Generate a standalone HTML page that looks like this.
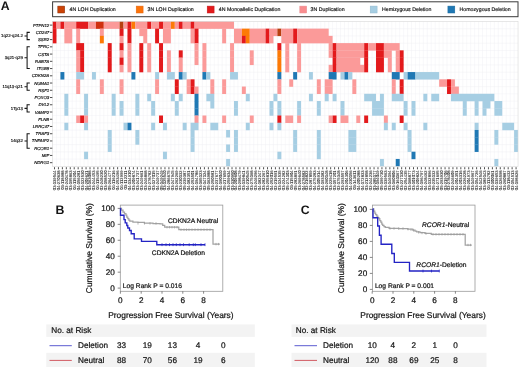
<!DOCTYPE html>
<html lang="en"><head><meta charset="utf-8"><title>Figure</title>
<style>html,body{margin:0;padding:0;background:#fff}body{width:520px;height:367px;overflow:hidden}</style></head>
<body>
<svg width="520" height="367" viewBox="0 0 520 367" style="display:block;font-family:'Liberation Sans',Arial,Helvetica,sans-serif">
<style>text{text-rendering:geometricPrecision;fill:#151515;stroke:#151515;stroke-width:.22px;stroke-linejoin:round}text.s{stroke-width:.07px;fill:#242424}text.m{stroke-width:.17px}text.b{stroke-width:0}</style>
<rect width="520" height="367" fill="#fff"/>
<text x="0.8" y="10" font-size="12.3" font-weight="bold" class="b">A</text>
<rect x="52.6" y="1.8" width="465.4" height="14.9" fill="#fff" stroke="#3a3a3a" stroke-width="1"/>
<rect x="57.8" y="6.1" width="6.9" height="6.9" fill="#cc4206" stroke="#86300a" stroke-width="0.5"/>
<text x="69.6" y="11.35" font-size="5.22" class="m">4N LOH Duplication</text>
<rect x="136.2" y="6.1" width="6.9" height="6.9" fill="#fd730a" stroke="#e0660f" stroke-width="0.5"/>
<text x="147.6" y="11.35" font-size="5.22" class="m">3N LOH Duplication</text>
<rect x="207.2" y="6.1" width="6.9" height="6.9" fill="#e31a1c" stroke="#c41a1c" stroke-width="0.5"/>
<text x="218.8" y="11.35" font-size="5.22" class="m">4N Monoallelic Duplication</text>
<rect x="299.8" y="6.1" width="6.9" height="6.9" fill="#f98d8f" stroke="#e89094" stroke-width="0.5"/>
<text x="310.6" y="11.35" font-size="5.22" class="m">3N Duplication</text>
<rect x="370.2" y="6.1" width="6.9" height="6.9" fill="#a6cee3" stroke="#93b9cd" stroke-width="0.5"/>
<text x="382.0" y="11.35" font-size="5.22" class="m">Hemizygous Deletion</text>
<rect x="447.9" y="6.1" width="6.9" height="6.9" fill="#1f78b4" stroke="#1c6a9e" stroke-width="0.5"/>
<text x="459.6" y="11.35" font-size="5.22" class="m">Homozygous Deletion</text>
<g>
<path d="M56.48 21.50V166.30M60.42 21.50V166.30M64.36 21.50V166.30M68.31 21.50V166.30M72.25 21.50V166.30M76.20 21.50V166.30M80.14 21.50V166.30M84.09 21.50V166.30M88.03 21.50V166.30M91.98 21.50V166.30M95.92 21.50V166.30M99.87 21.50V166.30M103.81 21.50V166.30M107.76 21.50V166.30M111.70 21.50V166.30M115.65 21.50V166.30M119.59 21.50V166.30M123.54 21.50V166.30M127.48 21.50V166.30M131.43 21.50V166.30M135.38 21.50V166.30M139.32 21.50V166.30M143.26 21.50V166.30M147.21 21.50V166.30M151.16 21.50V166.30M155.10 21.50V166.30M159.05 21.50V166.30M162.99 21.50V166.30M166.94 21.50V166.30M170.88 21.50V166.30M174.82 21.50V166.30M178.77 21.50V166.30M182.72 21.50V166.30M186.66 21.50V166.30M190.60 21.50V166.30M194.55 21.50V166.30M198.50 21.50V166.30M202.44 21.50V166.30M206.38 21.50V166.30M210.33 21.50V166.30M214.28 21.50V166.30M218.22 21.50V166.30M222.16 21.50V166.30M226.11 21.50V166.30M230.06 21.50V166.30M234.00 21.50V166.30M237.94 21.50V166.30M241.89 21.50V166.30M245.83 21.50V166.30M249.78 21.50V166.30M253.72 21.50V166.30M257.67 21.50V166.30M261.62 21.50V166.30M265.56 21.50V166.30M269.50 21.50V166.30M273.45 21.50V166.30M277.39 21.50V166.30M281.34 21.50V166.30M285.28 21.50V166.30M289.23 21.50V166.30M293.17 21.50V166.30M297.12 21.50V166.30M301.06 21.50V166.30M305.01 21.50V166.30M308.96 21.50V166.30M312.90 21.50V166.30M316.85 21.50V166.30M320.79 21.50V166.30M324.74 21.50V166.30M328.68 21.50V166.30M332.62 21.50V166.30M336.57 21.50V166.30M340.51 21.50V166.30M344.46 21.50V166.30M348.40 21.50V166.30M352.35 21.50V166.30M356.29 21.50V166.30M360.24 21.50V166.30M364.18 21.50V166.30M368.13 21.50V166.30M372.07 21.50V166.30M376.02 21.50V166.30M379.97 21.50V166.30M383.91 21.50V166.30M387.86 21.50V166.30M391.80 21.50V166.30M395.75 21.50V166.30M399.69 21.50V166.30M403.63 21.50V166.30M407.58 21.50V166.30M411.52 21.50V166.30M415.47 21.50V166.30M419.41 21.50V166.30M423.36 21.50V166.30M427.30 21.50V166.30M431.25 21.50V166.30M435.19 21.50V166.30M439.14 21.50V166.30M443.09 21.50V166.30M447.03 21.50V166.30M450.98 21.50V166.30M454.92 21.50V166.30M458.87 21.50V166.30M462.81 21.50V166.30M466.75 21.50V166.30M470.70 21.50V166.30M474.64 21.50V166.30M478.59 21.50V166.30M482.53 21.50V166.30M486.48 21.50V166.30M490.42 21.50V166.30M494.37 21.50V166.30M498.31 21.50V166.30M502.26 21.50V166.30M506.20 21.50V166.30M510.15 21.50V166.30M514.10 21.50V166.30M52.53 28.74H518.04M52.53 35.98H518.04M52.53 43.22H518.04M52.53 50.46H518.04M52.53 57.70H518.04M52.53 64.94H518.04M52.53 72.18H518.04M52.53 79.42H518.04M52.53 86.66H518.04M52.53 93.90H518.04M52.53 101.14H518.04M52.53 108.38H518.04M52.53 115.62H518.04M52.53 122.86H518.04M52.53 130.10H518.04M52.53 137.34H518.04M52.53 144.58H518.04M52.53 151.82H518.04M52.53 159.06H518.04" stroke="#efeff3" stroke-width="0.45" fill="none"/>
<rect x="52.53" y="21.38" width="3.94" height="7.48" fill="#e31a1c"/>
<rect x="56.48" y="21.38" width="3.94" height="7.48" fill="#fb9a99"/>
<rect x="60.42" y="21.38" width="3.94" height="7.48" fill="#e31a1c"/>
<rect x="64.36" y="21.38" width="11.83" height="7.48" fill="#fb9a99"/>
<rect x="76.20" y="21.38" width="11.83" height="7.48" fill="#e31a1c"/>
<rect x="88.03" y="21.38" width="7.89" height="7.48" fill="#fb9a99"/>
<rect x="95.92" y="21.38" width="7.89" height="7.48" fill="#d0300f"/>
<rect x="103.81" y="21.38" width="15.78" height="7.48" fill="#fb9a99"/>
<rect x="119.59" y="21.38" width="3.94" height="7.48" fill="#b8400f"/>
<rect x="123.54" y="21.38" width="3.94" height="7.48" fill="#fb9a99"/>
<rect x="127.48" y="21.38" width="3.94" height="7.48" fill="#e31a1c"/>
<rect x="131.43" y="21.38" width="3.94" height="7.48" fill="#fd7a06"/>
<rect x="135.38" y="21.38" width="11.83" height="7.48" fill="#fb9a99"/>
<rect x="147.21" y="21.38" width="3.94" height="7.48" fill="#e31a1c"/>
<rect x="151.16" y="21.38" width="7.89" height="7.48" fill="#fb9a99"/>
<rect x="159.05" y="21.38" width="3.94" height="7.48" fill="#e31a1c"/>
<rect x="162.99" y="21.38" width="7.89" height="7.48" fill="#fb9a99"/>
<rect x="170.88" y="21.38" width="3.94" height="7.48" fill="#fd7a06"/>
<rect x="174.82" y="21.38" width="3.94" height="7.48" fill="#fb9a99"/>
<rect x="178.77" y="21.38" width="3.94" height="7.48" fill="#e31a1c"/>
<rect x="182.72" y="21.38" width="7.89" height="7.48" fill="#fb9a99"/>
<rect x="190.60" y="21.38" width="3.94" height="7.48" fill="#e31a1c"/>
<rect x="194.55" y="21.38" width="39.45" height="7.48" fill="#fb9a99"/>
<rect x="52.53" y="28.62" width="3.94" height="7.48" fill="#e31a1c"/>
<rect x="64.36" y="28.62" width="7.89" height="7.48" fill="#fb9a99"/>
<rect x="76.20" y="28.62" width="3.94" height="7.48" fill="#fb9a99"/>
<rect x="99.87" y="28.62" width="3.94" height="7.48" fill="#fb9a99"/>
<rect x="119.59" y="28.62" width="3.94" height="7.48" fill="#e31a1c"/>
<rect x="127.48" y="28.62" width="3.94" height="7.48" fill="#e31a1c"/>
<rect x="139.32" y="28.62" width="7.89" height="7.48" fill="#fb9a99"/>
<rect x="155.10" y="28.62" width="3.94" height="7.48" fill="#e31a1c"/>
<rect x="162.99" y="28.62" width="7.89" height="7.48" fill="#fb9a99"/>
<rect x="190.60" y="28.62" width="3.94" height="7.48" fill="#fb9a99"/>
<rect x="194.55" y="28.62" width="3.94" height="7.48" fill="#e31a1c"/>
<rect x="222.16" y="28.62" width="3.94" height="7.48" fill="#fb9a99"/>
<rect x="234.00" y="28.62" width="7.89" height="7.48" fill="#fb9a99"/>
<rect x="241.89" y="28.62" width="7.89" height="7.48" fill="#fd7a06"/>
<rect x="249.78" y="28.62" width="15.78" height="7.48" fill="#fb9a99"/>
<rect x="265.56" y="28.62" width="3.94" height="7.48" fill="#e31a1c"/>
<rect x="269.50" y="28.62" width="7.89" height="7.48" fill="#fb9a99"/>
<rect x="277.39" y="28.62" width="3.94" height="7.48" fill="#b8400f"/>
<rect x="281.34" y="28.62" width="11.83" height="7.48" fill="#fb9a99"/>
<rect x="293.17" y="28.62" width="3.94" height="7.48" fill="#e31a1c"/>
<rect x="297.12" y="28.62" width="31.56" height="7.48" fill="#fb9a99"/>
<rect x="52.53" y="35.86" width="3.94" height="7.48" fill="#e31a1c"/>
<rect x="64.36" y="35.86" width="7.89" height="7.48" fill="#fb9a99"/>
<rect x="76.20" y="35.86" width="3.94" height="7.48" fill="#fb9a99"/>
<rect x="99.87" y="35.86" width="3.94" height="7.48" fill="#fd7a06"/>
<rect x="119.59" y="35.86" width="3.94" height="7.48" fill="#fb9a99"/>
<rect x="127.48" y="35.86" width="3.94" height="7.48" fill="#e31a1c"/>
<rect x="143.26" y="35.86" width="3.94" height="7.48" fill="#fb9a99"/>
<rect x="155.10" y="35.86" width="3.94" height="7.48" fill="#e31a1c"/>
<rect x="162.99" y="35.86" width="7.89" height="7.48" fill="#fb9a99"/>
<rect x="190.60" y="35.86" width="3.94" height="7.48" fill="#fb9a99"/>
<rect x="194.55" y="35.86" width="3.94" height="7.48" fill="#e31a1c"/>
<rect x="222.16" y="35.86" width="3.94" height="7.48" fill="#fb9a99"/>
<rect x="234.00" y="35.86" width="7.89" height="7.48" fill="#fb9a99"/>
<rect x="241.89" y="35.86" width="3.94" height="7.48" fill="#e31a1c"/>
<rect x="245.83" y="35.86" width="3.94" height="7.48" fill="#fd7a06"/>
<rect x="249.78" y="35.86" width="15.78" height="7.48" fill="#fb9a99"/>
<rect x="265.56" y="35.86" width="3.94" height="7.48" fill="#e31a1c"/>
<rect x="269.50" y="35.86" width="3.94" height="7.48" fill="#fb9a99"/>
<rect x="281.34" y="35.86" width="11.83" height="7.48" fill="#fb9a99"/>
<rect x="293.17" y="35.86" width="3.94" height="7.48" fill="#e31a1c"/>
<rect x="297.12" y="35.86" width="35.50" height="7.48" fill="#fb9a99"/>
<rect x="76.20" y="43.10" width="7.89" height="7.48" fill="#e31a1c"/>
<rect x="107.76" y="43.10" width="3.94" height="7.48" fill="#e31a1c"/>
<rect x="119.59" y="43.10" width="3.94" height="7.48" fill="#e31a1c"/>
<rect x="127.48" y="43.10" width="3.94" height="7.48" fill="#fb9a99"/>
<rect x="139.32" y="43.10" width="3.94" height="7.48" fill="#e31a1c"/>
<rect x="147.21" y="43.10" width="3.94" height="7.48" fill="#fb9a99"/>
<rect x="159.05" y="43.10" width="3.94" height="7.48" fill="#e31a1c"/>
<rect x="194.55" y="43.10" width="3.94" height="7.48" fill="#fb9a99"/>
<rect x="202.44" y="43.10" width="3.94" height="7.48" fill="#fb9a99"/>
<rect x="230.06" y="43.10" width="3.94" height="7.48" fill="#fb9a99"/>
<rect x="277.39" y="43.10" width="3.94" height="7.48" fill="#e31a1c"/>
<rect x="285.28" y="43.10" width="3.94" height="7.48" fill="#fb9a99"/>
<rect x="297.12" y="43.10" width="3.94" height="7.48" fill="#fb9a99"/>
<rect x="328.68" y="43.10" width="3.94" height="7.48" fill="#fb9a99"/>
<rect x="332.62" y="43.10" width="3.94" height="7.48" fill="#e31a1c"/>
<rect x="336.57" y="43.10" width="27.61" height="7.48" fill="#fb9a99"/>
<rect x="364.18" y="43.10" width="3.94" height="7.48" fill="#e31a1c"/>
<rect x="368.13" y="43.10" width="7.89" height="7.48" fill="#fb9a99"/>
<rect x="376.02" y="43.10" width="7.89" height="7.48" fill="#e31a1c"/>
<rect x="383.91" y="43.10" width="15.78" height="7.48" fill="#fb9a99"/>
<rect x="76.20" y="50.34" width="3.94" height="7.48" fill="#fb9a99"/>
<rect x="80.14" y="50.34" width="3.94" height="7.48" fill="#e31a1c"/>
<rect x="107.76" y="50.34" width="3.94" height="7.48" fill="#e31a1c"/>
<rect x="119.59" y="50.34" width="3.94" height="7.48" fill="#fb9a99"/>
<rect x="127.48" y="50.34" width="3.94" height="7.48" fill="#fb9a99"/>
<rect x="139.32" y="50.34" width="3.94" height="7.48" fill="#e31a1c"/>
<rect x="147.21" y="50.34" width="3.94" height="7.48" fill="#fb9a99"/>
<rect x="159.05" y="50.34" width="3.94" height="7.48" fill="#e31a1c"/>
<rect x="166.94" y="50.34" width="3.94" height="7.48" fill="#fb9a99"/>
<rect x="178.77" y="50.34" width="3.94" height="7.48" fill="#e31a1c"/>
<rect x="194.55" y="50.34" width="3.94" height="7.48" fill="#fb9a99"/>
<rect x="202.44" y="50.34" width="3.94" height="7.48" fill="#fb9a99"/>
<rect x="230.06" y="50.34" width="3.94" height="7.48" fill="#fb9a99"/>
<rect x="249.78" y="50.34" width="3.94" height="7.48" fill="#fb9a99"/>
<rect x="277.39" y="50.34" width="3.94" height="7.48" fill="#fd7a06"/>
<rect x="285.28" y="50.34" width="3.94" height="7.48" fill="#fb9a99"/>
<rect x="297.12" y="50.34" width="3.94" height="7.48" fill="#fb9a99"/>
<rect x="328.68" y="50.34" width="3.94" height="7.48" fill="#fb9a99"/>
<rect x="332.62" y="50.34" width="3.94" height="7.48" fill="#e31a1c"/>
<rect x="336.57" y="50.34" width="27.61" height="7.48" fill="#fb9a99"/>
<rect x="364.18" y="50.34" width="3.94" height="7.48" fill="#e31a1c"/>
<rect x="376.02" y="50.34" width="7.89" height="7.48" fill="#e31a1c"/>
<rect x="383.91" y="50.34" width="7.89" height="7.48" fill="#fb9a99"/>
<rect x="395.75" y="50.34" width="3.94" height="7.48" fill="#fb9a99"/>
<rect x="399.69" y="50.34" width="3.94" height="7.48" fill="#e31a1c"/>
<rect x="76.20" y="57.58" width="3.94" height="7.48" fill="#fb9a99"/>
<rect x="80.14" y="57.58" width="3.94" height="7.48" fill="#e31a1c"/>
<rect x="107.76" y="57.58" width="3.94" height="7.48" fill="#e31a1c"/>
<rect x="119.59" y="57.58" width="3.94" height="7.48" fill="#e31a1c"/>
<rect x="127.48" y="57.58" width="3.94" height="7.48" fill="#fb9a99"/>
<rect x="139.32" y="57.58" width="3.94" height="7.48" fill="#e31a1c"/>
<rect x="147.21" y="57.58" width="3.94" height="7.48" fill="#fb9a99"/>
<rect x="159.05" y="57.58" width="3.94" height="7.48" fill="#e31a1c"/>
<rect x="166.94" y="57.58" width="3.94" height="7.48" fill="#fb9a99"/>
<rect x="178.77" y="57.58" width="3.94" height="7.48" fill="#fb9a99"/>
<rect x="194.55" y="57.58" width="3.94" height="7.48" fill="#fb9a99"/>
<rect x="202.44" y="57.58" width="3.94" height="7.48" fill="#fb9a99"/>
<rect x="230.06" y="57.58" width="3.94" height="7.48" fill="#fb9a99"/>
<rect x="249.78" y="57.58" width="3.94" height="7.48" fill="#fb9a99"/>
<rect x="277.39" y="57.58" width="3.94" height="7.48" fill="#fd7a06"/>
<rect x="285.28" y="57.58" width="3.94" height="7.48" fill="#fb9a99"/>
<rect x="297.12" y="57.58" width="3.94" height="7.48" fill="#fb9a99"/>
<rect x="332.62" y="57.58" width="3.94" height="7.48" fill="#e31a1c"/>
<rect x="336.57" y="57.58" width="23.67" height="7.48" fill="#fb9a99"/>
<rect x="364.18" y="57.58" width="3.94" height="7.48" fill="#e31a1c"/>
<rect x="376.02" y="57.58" width="7.89" height="7.48" fill="#e31a1c"/>
<rect x="387.86" y="57.58" width="3.94" height="7.48" fill="#fb9a99"/>
<rect x="395.75" y="57.58" width="3.94" height="7.48" fill="#fb9a99"/>
<rect x="399.69" y="57.58" width="3.94" height="7.48" fill="#e31a1c"/>
<rect x="76.20" y="64.82" width="3.94" height="7.48" fill="#fb9a99"/>
<rect x="80.14" y="64.82" width="3.94" height="7.48" fill="#e31a1c"/>
<rect x="107.76" y="64.82" width="3.94" height="7.48" fill="#e31a1c"/>
<rect x="119.59" y="64.82" width="3.94" height="7.48" fill="#fb9a99"/>
<rect x="127.48" y="64.82" width="3.94" height="7.48" fill="#fb9a99"/>
<rect x="139.32" y="64.82" width="3.94" height="7.48" fill="#e31a1c"/>
<rect x="147.21" y="64.82" width="3.94" height="7.48" fill="#fb9a99"/>
<rect x="159.05" y="64.82" width="3.94" height="7.48" fill="#e31a1c"/>
<rect x="166.94" y="64.82" width="3.94" height="7.48" fill="#fb9a99"/>
<rect x="178.77" y="64.82" width="3.94" height="7.48" fill="#fb9a99"/>
<rect x="202.44" y="64.82" width="3.94" height="7.48" fill="#fb9a99"/>
<rect x="230.06" y="64.82" width="3.94" height="7.48" fill="#fb9a99"/>
<rect x="277.39" y="64.82" width="3.94" height="7.48" fill="#fd7a06"/>
<rect x="285.28" y="64.82" width="3.94" height="7.48" fill="#fb9a99"/>
<rect x="297.12" y="64.82" width="3.94" height="7.48" fill="#fb9a99"/>
<rect x="328.68" y="64.82" width="3.94" height="7.48" fill="#fb9a99"/>
<rect x="332.62" y="64.82" width="3.94" height="7.48" fill="#e31a1c"/>
<rect x="336.57" y="64.82" width="27.61" height="7.48" fill="#fb9a99"/>
<rect x="364.18" y="64.82" width="3.94" height="7.48" fill="#e31a1c"/>
<rect x="376.02" y="64.82" width="7.89" height="7.48" fill="#e31a1c"/>
<rect x="387.86" y="64.82" width="3.94" height="7.48" fill="#fb9a99"/>
<rect x="395.75" y="64.82" width="3.94" height="7.48" fill="#fb9a99"/>
<rect x="399.69" y="64.82" width="3.94" height="7.48" fill="#e31a1c"/>
<rect x="60.42" y="72.06" width="3.94" height="7.48" fill="#1f78b4"/>
<rect x="76.20" y="72.06" width="7.89" height="7.48" fill="#a6cee3"/>
<rect x="91.98" y="72.06" width="3.94" height="7.48" fill="#a6cee3"/>
<rect x="131.43" y="72.06" width="3.94" height="7.48" fill="#1f78b4"/>
<rect x="155.10" y="72.06" width="3.94" height="7.48" fill="#a6cee3"/>
<rect x="166.94" y="72.06" width="7.89" height="7.48" fill="#a6cee3"/>
<rect x="178.77" y="72.06" width="3.94" height="7.48" fill="#1f78b4"/>
<rect x="182.72" y="72.06" width="3.94" height="7.48" fill="#a6cee3"/>
<rect x="202.44" y="72.06" width="3.94" height="7.48" fill="#1f78b4"/>
<rect x="206.38" y="72.06" width="3.94" height="7.48" fill="#a6cee3"/>
<rect x="230.06" y="72.06" width="7.89" height="7.48" fill="#a6cee3"/>
<rect x="277.39" y="72.06" width="3.94" height="7.48" fill="#1f78b4"/>
<rect x="293.17" y="72.06" width="3.94" height="7.48" fill="#1f78b4"/>
<rect x="308.96" y="72.06" width="3.94" height="7.48" fill="#a6cee3"/>
<rect x="328.68" y="72.06" width="7.89" height="7.48" fill="#1f78b4"/>
<rect x="340.51" y="72.06" width="3.94" height="7.48" fill="#a6cee3"/>
<rect x="344.46" y="72.06" width="3.94" height="7.48" fill="#1f78b4"/>
<rect x="348.40" y="72.06" width="3.94" height="7.48" fill="#a6cee3"/>
<rect x="391.80" y="72.06" width="7.89" height="7.48" fill="#1f78b4"/>
<rect x="403.63" y="72.06" width="3.94" height="7.48" fill="#a6cee3"/>
<rect x="407.58" y="72.06" width="7.89" height="7.48" fill="#1f78b4"/>
<rect x="415.47" y="72.06" width="23.67" height="7.48" fill="#a6cee3"/>
<rect x="76.20" y="79.30" width="3.94" height="7.48" fill="#fb9a99"/>
<rect x="99.87" y="79.30" width="3.94" height="7.48" fill="#fb9a99"/>
<rect x="119.59" y="79.30" width="3.94" height="7.48" fill="#fb9a99"/>
<rect x="155.10" y="79.30" width="3.94" height="7.48" fill="#fb9a99"/>
<rect x="174.82" y="79.30" width="3.94" height="7.48" fill="#e31a1c"/>
<rect x="186.66" y="79.30" width="3.94" height="7.48" fill="#fb9a99"/>
<rect x="190.60" y="79.30" width="3.94" height="7.48" fill="#e31a1c"/>
<rect x="210.33" y="79.30" width="3.94" height="7.48" fill="#fb9a99"/>
<rect x="222.16" y="79.30" width="3.94" height="7.48" fill="#fb9a99"/>
<rect x="277.39" y="79.30" width="3.94" height="7.48" fill="#fb9a99"/>
<rect x="289.23" y="79.30" width="3.94" height="7.48" fill="#fb9a99"/>
<rect x="316.85" y="79.30" width="3.94" height="7.48" fill="#fb9a99"/>
<rect x="324.74" y="79.30" width="7.89" height="7.48" fill="#fb9a99"/>
<rect x="352.35" y="79.30" width="3.94" height="7.48" fill="#fb9a99"/>
<rect x="391.80" y="79.30" width="3.94" height="7.48" fill="#fb9a99"/>
<rect x="399.69" y="79.30" width="3.94" height="7.48" fill="#e31a1c"/>
<rect x="439.14" y="79.30" width="7.89" height="7.48" fill="#fb9a99"/>
<rect x="447.03" y="79.30" width="3.94" height="7.48" fill="#e31a1c"/>
<rect x="450.98" y="79.30" width="3.94" height="7.48" fill="#fb9a99"/>
<rect x="76.20" y="86.54" width="3.94" height="7.48" fill="#fb9a99"/>
<rect x="99.87" y="86.54" width="3.94" height="7.48" fill="#fb9a99"/>
<rect x="119.59" y="86.54" width="3.94" height="7.48" fill="#fb9a99"/>
<rect x="155.10" y="86.54" width="3.94" height="7.48" fill="#fb9a99"/>
<rect x="174.82" y="86.54" width="3.94" height="7.48" fill="#e31a1c"/>
<rect x="186.66" y="86.54" width="3.94" height="7.48" fill="#fb9a99"/>
<rect x="190.60" y="86.54" width="3.94" height="7.48" fill="#e31a1c"/>
<rect x="194.55" y="86.54" width="3.94" height="7.48" fill="#fb9a99"/>
<rect x="210.33" y="86.54" width="3.94" height="7.48" fill="#fb9a99"/>
<rect x="222.16" y="86.54" width="3.94" height="7.48" fill="#fb9a99"/>
<rect x="241.89" y="86.54" width="3.94" height="7.48" fill="#fb9a99"/>
<rect x="277.39" y="86.54" width="3.94" height="7.48" fill="#fb9a99"/>
<rect x="316.85" y="86.54" width="3.94" height="7.48" fill="#fb9a99"/>
<rect x="324.74" y="86.54" width="7.89" height="7.48" fill="#fb9a99"/>
<rect x="352.35" y="86.54" width="3.94" height="7.48" fill="#fb9a99"/>
<rect x="391.80" y="86.54" width="3.94" height="7.48" fill="#fb9a99"/>
<rect x="399.69" y="86.54" width="3.94" height="7.48" fill="#e31a1c"/>
<rect x="447.03" y="86.54" width="3.94" height="7.48" fill="#e31a1c"/>
<rect x="450.98" y="86.54" width="7.89" height="7.48" fill="#fb9a99"/>
<rect x="64.36" y="93.78" width="3.94" height="7.48" fill="#a6cee3"/>
<rect x="84.09" y="93.78" width="3.94" height="7.48" fill="#a6cee3"/>
<rect x="111.70" y="93.78" width="3.94" height="7.48" fill="#a6cee3"/>
<rect x="135.38" y="93.78" width="3.94" height="7.48" fill="#a6cee3"/>
<rect x="147.21" y="93.78" width="3.94" height="7.48" fill="#a6cee3"/>
<rect x="170.88" y="93.78" width="3.94" height="7.48" fill="#a6cee3"/>
<rect x="178.77" y="93.78" width="3.94" height="7.48" fill="#a6cee3"/>
<rect x="194.55" y="93.78" width="3.94" height="7.48" fill="#1f78b4"/>
<rect x="206.38" y="93.78" width="7.89" height="7.48" fill="#a6cee3"/>
<rect x="245.83" y="93.78" width="3.94" height="7.48" fill="#a6cee3"/>
<rect x="273.45" y="93.78" width="3.94" height="7.48" fill="#a6cee3"/>
<rect x="308.96" y="93.78" width="3.94" height="7.48" fill="#a6cee3"/>
<rect x="324.74" y="93.78" width="3.94" height="7.48" fill="#a6cee3"/>
<rect x="332.62" y="93.78" width="3.94" height="7.48" fill="#a6cee3"/>
<rect x="364.18" y="93.78" width="11.83" height="7.48" fill="#a6cee3"/>
<rect x="379.97" y="93.78" width="3.94" height="7.48" fill="#a6cee3"/>
<rect x="391.80" y="93.78" width="11.83" height="7.48" fill="#a6cee3"/>
<rect x="423.36" y="93.78" width="3.94" height="7.48" fill="#a6cee3"/>
<rect x="431.25" y="93.78" width="7.89" height="7.48" fill="#a6cee3"/>
<rect x="450.98" y="93.78" width="43.39" height="7.48" fill="#a6cee3"/>
<rect x="64.36" y="101.02" width="3.94" height="7.48" fill="#a6cee3"/>
<rect x="84.09" y="101.02" width="3.94" height="7.48" fill="#a6cee3"/>
<rect x="111.70" y="101.02" width="3.94" height="7.48" fill="#a6cee3"/>
<rect x="119.59" y="101.02" width="3.94" height="7.48" fill="#a6cee3"/>
<rect x="135.38" y="101.02" width="3.94" height="7.48" fill="#a6cee3"/>
<rect x="151.16" y="101.02" width="3.94" height="7.48" fill="#a6cee3"/>
<rect x="174.82" y="101.02" width="3.94" height="7.48" fill="#a6cee3"/>
<rect x="194.55" y="101.02" width="3.94" height="7.48" fill="#1f78b4"/>
<rect x="210.33" y="101.02" width="3.94" height="7.48" fill="#a6cee3"/>
<rect x="234.00" y="101.02" width="3.94" height="7.48" fill="#a6cee3"/>
<rect x="269.50" y="101.02" width="3.94" height="7.48" fill="#a6cee3"/>
<rect x="277.39" y="101.02" width="3.94" height="7.48" fill="#a6cee3"/>
<rect x="297.12" y="101.02" width="3.94" height="7.48" fill="#a6cee3"/>
<rect x="316.85" y="101.02" width="3.94" height="7.48" fill="#a6cee3"/>
<rect x="340.51" y="101.02" width="3.94" height="7.48" fill="#a6cee3"/>
<rect x="372.07" y="101.02" width="11.83" height="7.48" fill="#a6cee3"/>
<rect x="403.63" y="101.02" width="3.94" height="7.48" fill="#a6cee3"/>
<rect x="411.52" y="101.02" width="3.94" height="7.48" fill="#a6cee3"/>
<rect x="462.81" y="101.02" width="3.94" height="7.48" fill="#a6cee3"/>
<rect x="474.64" y="101.02" width="3.94" height="7.48" fill="#a6cee3"/>
<rect x="482.53" y="101.02" width="7.89" height="7.48" fill="#a6cee3"/>
<rect x="494.37" y="101.02" width="7.89" height="7.48" fill="#a6cee3"/>
<rect x="64.36" y="108.26" width="3.94" height="7.48" fill="#a6cee3"/>
<rect x="84.09" y="108.26" width="3.94" height="7.48" fill="#a6cee3"/>
<rect x="111.70" y="108.26" width="3.94" height="7.48" fill="#a6cee3"/>
<rect x="119.59" y="108.26" width="3.94" height="7.48" fill="#a6cee3"/>
<rect x="135.38" y="108.26" width="3.94" height="7.48" fill="#a6cee3"/>
<rect x="151.16" y="108.26" width="3.94" height="7.48" fill="#a6cee3"/>
<rect x="174.82" y="108.26" width="3.94" height="7.48" fill="#a6cee3"/>
<rect x="194.55" y="108.26" width="3.94" height="7.48" fill="#1f78b4"/>
<rect x="234.00" y="108.26" width="3.94" height="7.48" fill="#a6cee3"/>
<rect x="269.50" y="108.26" width="3.94" height="7.48" fill="#a6cee3"/>
<rect x="277.39" y="108.26" width="3.94" height="7.48" fill="#a6cee3"/>
<rect x="297.12" y="108.26" width="3.94" height="7.48" fill="#a6cee3"/>
<rect x="316.85" y="108.26" width="3.94" height="7.48" fill="#a6cee3"/>
<rect x="340.51" y="108.26" width="3.94" height="7.48" fill="#a6cee3"/>
<rect x="372.07" y="108.26" width="11.83" height="7.48" fill="#a6cee3"/>
<rect x="403.63" y="108.26" width="3.94" height="7.48" fill="#a6cee3"/>
<rect x="411.52" y="108.26" width="3.94" height="7.48" fill="#a6cee3"/>
<rect x="462.81" y="108.26" width="3.94" height="7.48" fill="#a6cee3"/>
<rect x="474.64" y="108.26" width="3.94" height="7.48" fill="#a6cee3"/>
<rect x="482.53" y="108.26" width="3.94" height="7.48" fill="#a6cee3"/>
<rect x="494.37" y="108.26" width="7.89" height="7.48" fill="#a6cee3"/>
<rect x="76.20" y="115.50" width="3.94" height="7.48" fill="#fb9a99"/>
<rect x="80.14" y="115.50" width="3.94" height="7.48" fill="#e31a1c"/>
<rect x="84.09" y="115.50" width="3.94" height="7.48" fill="#fb9a99"/>
<rect x="159.05" y="115.50" width="3.94" height="7.48" fill="#e31a1c"/>
<rect x="194.55" y="115.50" width="3.94" height="7.48" fill="#fb9a99"/>
<rect x="202.44" y="115.50" width="3.94" height="7.48" fill="#fb9a99"/>
<rect x="222.16" y="115.50" width="3.94" height="7.48" fill="#fb9a99"/>
<rect x="249.78" y="115.50" width="3.94" height="7.48" fill="#fb9a99"/>
<rect x="277.39" y="115.50" width="3.94" height="7.48" fill="#e31a1c"/>
<rect x="285.28" y="115.50" width="7.89" height="7.48" fill="#fb9a99"/>
<rect x="297.12" y="115.50" width="3.94" height="7.48" fill="#fb9a99"/>
<rect x="328.68" y="115.50" width="3.94" height="7.48" fill="#fb9a99"/>
<rect x="332.62" y="115.50" width="3.94" height="7.48" fill="#e31a1c"/>
<rect x="340.51" y="115.50" width="7.89" height="7.48" fill="#fb9a99"/>
<rect x="356.29" y="115.50" width="3.94" height="7.48" fill="#fb9a99"/>
<rect x="364.18" y="115.50" width="3.94" height="7.48" fill="#e31a1c"/>
<rect x="383.91" y="115.50" width="3.94" height="7.48" fill="#fb9a99"/>
<rect x="399.69" y="115.50" width="3.94" height="7.48" fill="#e31a1c"/>
<rect x="64.36" y="122.74" width="3.94" height="7.48" fill="#a6cee3"/>
<rect x="84.09" y="122.74" width="3.94" height="7.48" fill="#a6cee3"/>
<rect x="123.54" y="122.74" width="3.94" height="7.48" fill="#a6cee3"/>
<rect x="127.48" y="122.74" width="3.94" height="7.48" fill="#1f78b4"/>
<rect x="151.16" y="122.74" width="3.94" height="7.48" fill="#a6cee3"/>
<rect x="162.99" y="122.74" width="3.94" height="7.48" fill="#a6cee3"/>
<rect x="182.72" y="122.74" width="3.94" height="7.48" fill="#a6cee3"/>
<rect x="190.60" y="122.74" width="7.89" height="7.48" fill="#a6cee3"/>
<rect x="210.33" y="122.74" width="7.89" height="7.48" fill="#a6cee3"/>
<rect x="245.83" y="122.74" width="3.94" height="7.48" fill="#a6cee3"/>
<rect x="269.50" y="122.74" width="3.94" height="7.48" fill="#a6cee3"/>
<rect x="277.39" y="122.74" width="3.94" height="7.48" fill="#a6cee3"/>
<rect x="383.91" y="122.74" width="3.94" height="7.48" fill="#a6cee3"/>
<rect x="391.80" y="122.74" width="3.94" height="7.48" fill="#a6cee3"/>
<rect x="403.63" y="122.74" width="3.94" height="7.48" fill="#a6cee3"/>
<rect x="423.36" y="122.74" width="3.94" height="7.48" fill="#a6cee3"/>
<rect x="474.64" y="122.74" width="3.94" height="7.48" fill="#a6cee3"/>
<rect x="502.26" y="122.74" width="11.83" height="7.48" fill="#a6cee3"/>
<rect x="107.76" y="129.98" width="3.94" height="7.48" fill="#a6cee3"/>
<rect x="135.38" y="129.98" width="3.94" height="7.48" fill="#a6cee3"/>
<rect x="190.60" y="129.98" width="3.94" height="7.48" fill="#a6cee3"/>
<rect x="226.11" y="129.98" width="3.94" height="7.48" fill="#a6cee3"/>
<rect x="234.00" y="129.98" width="3.94" height="7.48" fill="#a6cee3"/>
<rect x="293.17" y="129.98" width="3.94" height="7.48" fill="#a6cee3"/>
<rect x="316.85" y="129.98" width="3.94" height="7.48" fill="#a6cee3"/>
<rect x="348.40" y="129.98" width="7.89" height="7.48" fill="#a6cee3"/>
<rect x="407.58" y="129.98" width="3.94" height="7.48" fill="#a6cee3"/>
<rect x="474.64" y="129.98" width="3.94" height="7.48" fill="#1f78b4"/>
<rect x="494.37" y="129.98" width="3.94" height="7.48" fill="#a6cee3"/>
<rect x="514.10" y="129.98" width="3.94" height="7.48" fill="#a6cee3"/>
<rect x="107.76" y="137.22" width="3.94" height="7.48" fill="#a6cee3"/>
<rect x="135.38" y="137.22" width="3.94" height="7.48" fill="#a6cee3"/>
<rect x="190.60" y="137.22" width="3.94" height="7.48" fill="#a6cee3"/>
<rect x="234.00" y="137.22" width="3.94" height="7.48" fill="#a6cee3"/>
<rect x="293.17" y="137.22" width="3.94" height="7.48" fill="#a6cee3"/>
<rect x="316.85" y="137.22" width="3.94" height="7.48" fill="#a6cee3"/>
<rect x="348.40" y="137.22" width="7.89" height="7.48" fill="#a6cee3"/>
<rect x="407.58" y="137.22" width="3.94" height="7.48" fill="#a6cee3"/>
<rect x="474.64" y="137.22" width="3.94" height="7.48" fill="#1f78b4"/>
<rect x="494.37" y="137.22" width="3.94" height="7.48" fill="#a6cee3"/>
<rect x="514.10" y="137.22" width="3.94" height="7.48" fill="#a6cee3"/>
<rect x="107.76" y="144.46" width="3.94" height="7.48" fill="#a6cee3"/>
<rect x="190.60" y="144.46" width="3.94" height="7.48" fill="#a6cee3"/>
<rect x="226.11" y="144.46" width="3.94" height="7.48" fill="#a6cee3"/>
<rect x="234.00" y="144.46" width="3.94" height="7.48" fill="#a6cee3"/>
<rect x="293.17" y="144.46" width="3.94" height="7.48" fill="#a6cee3"/>
<rect x="316.85" y="144.46" width="3.94" height="7.48" fill="#a6cee3"/>
<rect x="348.40" y="144.46" width="7.89" height="7.48" fill="#a6cee3"/>
<rect x="407.58" y="144.46" width="3.94" height="7.48" fill="#a6cee3"/>
<rect x="474.64" y="144.46" width="3.94" height="7.48" fill="#1f78b4"/>
<rect x="514.10" y="144.46" width="3.94" height="7.48" fill="#a6cee3"/>
<rect x="84.09" y="151.70" width="3.94" height="7.48" fill="#a6cee3"/>
<rect x="162.99" y="151.70" width="3.94" height="7.48" fill="#a6cee3"/>
<rect x="277.39" y="151.70" width="3.94" height="7.48" fill="#a6cee3"/>
<rect x="316.85" y="151.70" width="3.94" height="7.48" fill="#a6cee3"/>
<rect x="411.52" y="151.70" width="3.94" height="7.48" fill="#1f78b4"/>
<rect x="226.11" y="158.94" width="3.94" height="7.48" fill="#a6cee3"/>
<rect x="379.97" y="158.94" width="3.94" height="7.48" fill="#a6cee3"/>
<rect x="395.75" y="158.94" width="3.94" height="7.48" fill="#1f78b4"/>
<rect x="494.37" y="158.94" width="3.94" height="7.48" fill="#a6cee3"/>
<rect x="52.53" y="21.50" width="465.51" height="144.80" fill="none" stroke="#d8d8d8" stroke-width="0.6"/>
</g>
<text x="49.2" y="26.62" font-size="4.3" font-style="italic" text-anchor="end" class="m">PTPN12</text>
<text x="49.2" y="33.86" font-size="4.3" font-style="italic" text-anchor="end" class="m">CD247</text>
<text x="49.2" y="41.10" font-size="4.3" font-style="italic" text-anchor="end" class="m">SSR2</text>
<text x="49.2" y="48.34" font-size="4.3" font-style="italic" text-anchor="end" class="m">TFRC</text>
<text x="49.2" y="55.58" font-size="4.3" font-style="italic" text-anchor="end" class="m">CSTA</text>
<text x="49.2" y="62.82" font-size="4.3" font-style="italic" text-anchor="end" class="m">RAB7A</text>
<text x="49.2" y="70.06" font-size="4.3" font-style="italic" text-anchor="end" class="m">ITGB5</text>
<text x="49.2" y="77.30" font-size="4.3" font-style="italic" text-anchor="end" class="m">CDKN2A</text>
<text x="49.2" y="84.54" font-size="4.3" font-style="italic" text-anchor="end" class="m">NUMA1</text>
<text x="49.2" y="91.78" font-size="4.3" font-style="italic" text-anchor="end" class="m">RSF1</text>
<text x="49.2" y="99.02" font-size="4.3" font-style="italic" text-anchor="end" class="m">FOXO3</text>
<text x="49.2" y="106.26" font-size="4.3" font-style="italic" text-anchor="end" class="m">DVL2</text>
<text x="49.2" y="113.50" font-size="4.3" font-style="italic" text-anchor="end" class="m">VAMP2</text>
<text x="49.2" y="120.74" font-size="4.3" font-style="italic" text-anchor="end" class="m">FLNB</text>
<text x="49.2" y="127.98" font-size="4.3" font-style="italic" text-anchor="end" class="m">LRRC47</text>
<text x="49.2" y="135.22" font-size="4.3" font-style="italic" text-anchor="end" class="m">TRAF3</text>
<text x="49.2" y="142.46" font-size="4.3" font-style="italic" text-anchor="end" class="m">TNFAIP2</text>
<text x="49.2" y="149.70" font-size="4.3" font-style="italic" text-anchor="end" class="m">RCOR1</text>
<text x="49.2" y="156.94" font-size="4.3" font-style="italic" text-anchor="end" class="m">MIF</text>
<text x="49.2" y="164.18" font-size="4.3" font-style="italic" text-anchor="end" class="m">NDRG1</text>
<path d="M49.93 25.12H52.33M49.93 32.36H52.33M49.93 39.60H52.33M49.93 46.84H52.33M49.93 54.08H52.33M49.93 61.32H52.33M49.93 68.56H52.33M49.93 75.80H52.33M49.93 83.04H52.33M49.93 90.28H52.33M49.93 97.52H52.33M49.93 104.76H52.33M49.93 112.00H52.33M49.93 119.24H52.33M49.93 126.48H52.33M49.93 133.72H52.33M49.93 140.96H52.33M49.93 148.20H52.33M49.93 155.44H52.33M49.93 162.68H52.33" stroke="#222" stroke-width="0.8" fill="none"/>
<path d="M29.8 32.36H27.1V39.60H29.8M27.1 35.98H24.5" stroke="#151515" stroke-width="1.05" fill="none"/>
<text x="22.8" y="37.48" font-size="4.3" text-anchor="end" class="m">1q22-q24.2</text>
<path d="M29.8 46.84H27.1V68.56H29.8M27.1 57.70H24.5" stroke="#151515" stroke-width="1.05" fill="none"/>
<text x="22.8" y="59.20" font-size="4.3" text-anchor="end" class="m">3q21-q29</text>
<path d="M29.8 83.04H27.1V90.28H29.8M27.1 86.66H24.5" stroke="#151515" stroke-width="1.05" fill="none"/>
<text x="22.8" y="88.16" font-size="4.3" text-anchor="end" class="m">11q13-q21</text>
<path d="M29.8 104.76H27.1V112.00H29.8M27.1 108.38H24.5" stroke="#151515" stroke-width="1.05" fill="none"/>
<text x="22.8" y="109.88" font-size="4.3" text-anchor="end" class="m">17p13</text>
<path d="M29.8 133.72H27.1V148.20H29.8M27.1 140.96H24.5" stroke="#151515" stroke-width="1.05" fill="none"/>
<text x="22.8" y="142.46" font-size="4.3" text-anchor="end" class="m">14q32</text>
<text transform="translate(55.98 170.50) rotate(-90)" font-size="4.12" text-anchor="end" class="s">03-139544</text>
<text transform="translate(59.93 170.50) rotate(-90)" font-size="4.12" text-anchor="end" class="s">04-270638</text>
<text transform="translate(63.87 170.50) rotate(-90)" font-size="4.12" text-anchor="end" class="s">03-118988</text>
<text transform="translate(67.82 170.50) rotate(-90)" font-size="4.12" text-anchor="end" class="s">02-240478</text>
<text transform="translate(71.76 170.50) rotate(-90)" font-size="4.12" text-anchor="end" class="s">03-195863</text>
<text transform="translate(75.71 170.50) rotate(-90)" font-size="4.12" text-anchor="end" class="s">04-115204</text>
<text transform="translate(79.65 170.50) rotate(-90)" font-size="4.12" text-anchor="end" class="s">04-156281</text>
<text transform="translate(83.60 170.50) rotate(-90)" font-size="4.12" text-anchor="end" class="s">03-122530</text>
<text transform="translate(87.54 170.50) rotate(-90)" font-size="4.12" text-anchor="end" class="s">04-209621</text>
<text transform="translate(91.49 170.50) rotate(-90)" font-size="4.12" text-anchor="end" class="s">03-163088</text>
<text transform="translate(95.43 170.50) rotate(-90)" font-size="4.12" text-anchor="end" class="s">03-244453</text>
<text transform="translate(99.38 170.50) rotate(-90)" font-size="4.12" text-anchor="end" class="s">04-115495</text>
<text transform="translate(103.32 170.50) rotate(-90)" font-size="4.12" text-anchor="end" class="s">02-248230</text>
<text transform="translate(107.27 170.50) rotate(-90)" font-size="4.12" text-anchor="end" class="s">03-158520</text>
<text transform="translate(111.21 170.50) rotate(-90)" font-size="4.12" text-anchor="end" class="s">05-264477</text>
<text transform="translate(115.16 170.50) rotate(-90)" font-size="4.12" text-anchor="end" class="s">04-116216</text>
<text transform="translate(119.10 170.50) rotate(-90)" font-size="4.12" text-anchor="end" class="s">04-253496</text>
<text transform="translate(123.05 170.50) rotate(-90)" font-size="4.12" text-anchor="end" class="s">04-112999</text>
<text transform="translate(126.99 170.50) rotate(-90)" font-size="4.12" text-anchor="end" class="s">03-112211</text>
<text transform="translate(130.94 170.50) rotate(-90)" font-size="4.12" text-anchor="end" class="s">04-134910</text>
<text transform="translate(134.88 170.50) rotate(-90)" font-size="4.12" text-anchor="end" class="s">03-209874</text>
<text transform="translate(138.83 170.50) rotate(-90)" font-size="4.12" text-anchor="end" class="s">03-241737</text>
<text transform="translate(142.77 170.50) rotate(-90)" font-size="4.12" text-anchor="end" class="s">03-249661</text>
<text transform="translate(146.72 170.50) rotate(-90)" font-size="4.12" text-anchor="end" class="s">03-246868</text>
<text transform="translate(150.66 170.50) rotate(-90)" font-size="4.12" text-anchor="end" class="s">02-278782</text>
<text transform="translate(154.61 170.50) rotate(-90)" font-size="4.12" text-anchor="end" class="s">03-127015</text>
<text transform="translate(158.55 170.50) rotate(-90)" font-size="4.12" text-anchor="end" class="s">04-249737</text>
<text transform="translate(162.50 170.50) rotate(-90)" font-size="4.12" text-anchor="end" class="s">05-149249</text>
<text transform="translate(166.44 170.50) rotate(-90)" font-size="4.12" text-anchor="end" class="s">03-125540</text>
<text transform="translate(170.39 170.50) rotate(-90)" font-size="4.12" text-anchor="end" class="s">04-286675</text>
<text transform="translate(174.33 170.50) rotate(-90)" font-size="4.12" text-anchor="end" class="s">03-247945</text>
<text transform="translate(178.28 170.50) rotate(-90)" font-size="4.12" text-anchor="end" class="s">03-262269</text>
<text transform="translate(182.22 170.50) rotate(-90)" font-size="4.12" text-anchor="end" class="s">03-230132</text>
<text transform="translate(186.17 170.50) rotate(-90)" font-size="4.12" text-anchor="end" class="s">05-239387</text>
<text transform="translate(190.11 170.50) rotate(-90)" font-size="4.12" text-anchor="end" class="s">04-182351</text>
<text transform="translate(194.06 170.50) rotate(-90)" font-size="4.12" text-anchor="end" class="s">04-253501</text>
<text transform="translate(198.00 170.50) rotate(-90)" font-size="4.12" text-anchor="end" class="s">04-194786</text>
<text transform="translate(201.95 170.50) rotate(-90)" font-size="4.12" text-anchor="end" class="s">03-165123</text>
<text transform="translate(205.89 170.50) rotate(-90)" font-size="4.12" text-anchor="end" class="s">02-147124</text>
<text transform="translate(209.84 170.50) rotate(-90)" font-size="4.12" text-anchor="end" class="s">05-163988</text>
<text transform="translate(213.78 170.50) rotate(-90)" font-size="4.12" text-anchor="end" class="s">03-250581</text>
<text transform="translate(217.73 170.50) rotate(-90)" font-size="4.12" text-anchor="end" class="s">03-237677</text>
<text transform="translate(221.67 170.50) rotate(-90)" font-size="4.12" text-anchor="end" class="s">04-190040</text>
<text transform="translate(225.62 170.50) rotate(-90)" font-size="4.12" text-anchor="end" class="s">05-217659</text>
<text transform="translate(229.56 170.50) rotate(-90)" font-size="4.12" text-anchor="end" class="s">03-259634</text>
<text transform="translate(233.51 170.50) rotate(-90)" font-size="4.12" text-anchor="end" class="s">03-130950</text>
<text transform="translate(237.45 170.50) rotate(-90)" font-size="4.12" text-anchor="end" class="s">04-209608</text>
<text transform="translate(241.40 170.50) rotate(-90)" font-size="4.12" text-anchor="end" class="s">03-298479</text>
<text transform="translate(245.34 170.50) rotate(-90)" font-size="4.12" text-anchor="end" class="s">03-139841</text>
<text transform="translate(249.29 170.50) rotate(-90)" font-size="4.12" text-anchor="end" class="s">04-210545</text>
<text transform="translate(253.23 170.50) rotate(-90)" font-size="4.12" text-anchor="end" class="s">03-275168</text>
<text transform="translate(257.18 170.50) rotate(-90)" font-size="4.12" text-anchor="end" class="s">03-246296</text>
<text transform="translate(261.12 170.50) rotate(-90)" font-size="4.12" text-anchor="end" class="s">04-182247</text>
<text transform="translate(265.07 170.50) rotate(-90)" font-size="4.12" text-anchor="end" class="s">03-282267</text>
<text transform="translate(269.01 170.50) rotate(-90)" font-size="4.12" text-anchor="end" class="s">03-255810</text>
<text transform="translate(272.96 170.50) rotate(-90)" font-size="4.12" text-anchor="end" class="s">04-252016</text>
<text transform="translate(276.90 170.50) rotate(-90)" font-size="4.12" text-anchor="end" class="s">02-219591</text>
<text transform="translate(280.85 170.50) rotate(-90)" font-size="4.12" text-anchor="end" class="s">03-124535</text>
<text transform="translate(284.79 170.50) rotate(-90)" font-size="4.12" text-anchor="end" class="s">03-224282</text>
<text transform="translate(288.74 170.50) rotate(-90)" font-size="4.12" text-anchor="end" class="s">05-274103</text>
<text transform="translate(292.68 170.50) rotate(-90)" font-size="4.12" text-anchor="end" class="s">03-115904</text>
<text transform="translate(296.63 170.50) rotate(-90)" font-size="4.12" text-anchor="end" class="s">05-283891</text>
<text transform="translate(300.57 170.50) rotate(-90)" font-size="4.12" text-anchor="end" class="s">03-269640</text>
<text transform="translate(304.52 170.50) rotate(-90)" font-size="4.12" text-anchor="end" class="s">04-278582</text>
<text transform="translate(308.46 170.50) rotate(-90)" font-size="4.12" text-anchor="end" class="s">02-216822</text>
<text transform="translate(312.41 170.50) rotate(-90)" font-size="4.12" text-anchor="end" class="s">03-287859</text>
<text transform="translate(316.35 170.50) rotate(-90)" font-size="4.12" text-anchor="end" class="s">04-275283</text>
<text transform="translate(320.30 170.50) rotate(-90)" font-size="4.12" text-anchor="end" class="s">03-105914</text>
<text transform="translate(324.24 170.50) rotate(-90)" font-size="4.12" text-anchor="end" class="s">04-193182</text>
<text transform="translate(328.19 170.50) rotate(-90)" font-size="4.12" text-anchor="end" class="s">03-260148</text>
<text transform="translate(332.13 170.50) rotate(-90)" font-size="4.12" text-anchor="end" class="s">03-229418</text>
<text transform="translate(336.08 170.50) rotate(-90)" font-size="4.12" text-anchor="end" class="s">03-157201</text>
<text transform="translate(340.02 170.50) rotate(-90)" font-size="4.12" text-anchor="end" class="s">02-175348</text>
<text transform="translate(343.97 170.50) rotate(-90)" font-size="4.12" text-anchor="end" class="s">03-293557</text>
<text transform="translate(347.91 170.50) rotate(-90)" font-size="4.12" text-anchor="end" class="s">03-204306</text>
<text transform="translate(351.86 170.50) rotate(-90)" font-size="4.12" text-anchor="end" class="s">04-230156</text>
<text transform="translate(355.80 170.50) rotate(-90)" font-size="4.12" text-anchor="end" class="s">03-143611</text>
<text transform="translate(359.75 170.50) rotate(-90)" font-size="4.12" text-anchor="end" class="s">04-205288</text>
<text transform="translate(363.69 170.50) rotate(-90)" font-size="4.12" text-anchor="end" class="s">04-172833</text>
<text transform="translate(367.64 170.50) rotate(-90)" font-size="4.12" text-anchor="end" class="s">03-212858</text>
<text transform="translate(371.58 170.50) rotate(-90)" font-size="4.12" text-anchor="end" class="s">02-244236</text>
<text transform="translate(375.53 170.50) rotate(-90)" font-size="4.12" text-anchor="end" class="s">03-285177</text>
<text transform="translate(379.47 170.50) rotate(-90)" font-size="4.12" text-anchor="end" class="s">04-194049</text>
<text transform="translate(383.42 170.50) rotate(-90)" font-size="4.12" text-anchor="end" class="s">05-199730</text>
<text transform="translate(387.36 170.50) rotate(-90)" font-size="4.12" text-anchor="end" class="s">03-139563</text>
<text transform="translate(391.31 170.50) rotate(-90)" font-size="4.12" text-anchor="end" class="s">03-146194</text>
<text transform="translate(395.25 170.50) rotate(-90)" font-size="4.12" text-anchor="end" class="s">03-160806</text>
<text transform="translate(399.20 170.50) rotate(-90)" font-size="4.12" text-anchor="end" class="s">05-161167</text>
<text transform="translate(403.14 170.50) rotate(-90)" font-size="4.12" text-anchor="end" class="s">03-227130</text>
<text transform="translate(407.09 170.50) rotate(-90)" font-size="4.12" text-anchor="end" class="s">02-254435</text>
<text transform="translate(411.03 170.50) rotate(-90)" font-size="4.12" text-anchor="end" class="s">03-168877</text>
<text transform="translate(414.98 170.50) rotate(-90)" font-size="4.12" text-anchor="end" class="s">03-101073</text>
<text transform="translate(418.92 170.50) rotate(-90)" font-size="4.12" text-anchor="end" class="s">03-209824</text>
<text transform="translate(422.87 170.50) rotate(-90)" font-size="4.12" text-anchor="end" class="s">04-196797</text>
<text transform="translate(426.81 170.50) rotate(-90)" font-size="4.12" text-anchor="end" class="s">04-248462</text>
<text transform="translate(430.76 170.50) rotate(-90)" font-size="4.12" text-anchor="end" class="s">03-132896</text>
<text transform="translate(434.70 170.50) rotate(-90)" font-size="4.12" text-anchor="end" class="s">05-235132</text>
<text transform="translate(438.65 170.50) rotate(-90)" font-size="4.12" text-anchor="end" class="s">04-271695</text>
<text transform="translate(442.59 170.50) rotate(-90)" font-size="4.12" text-anchor="end" class="s">05-293930</text>
<text transform="translate(446.54 170.50) rotate(-90)" font-size="4.12" text-anchor="end" class="s">03-219706</text>
<text transform="translate(450.48 170.50) rotate(-90)" font-size="4.12" text-anchor="end" class="s">02-278408</text>
<text transform="translate(454.43 170.50) rotate(-90)" font-size="4.12" text-anchor="end" class="s">02-246609</text>
<text transform="translate(458.37 170.50) rotate(-90)" font-size="4.12" text-anchor="end" class="s">04-204351</text>
<text transform="translate(462.32 170.50) rotate(-90)" font-size="4.12" text-anchor="end" class="s">04-203316</text>
<text transform="translate(466.26 170.50) rotate(-90)" font-size="4.12" text-anchor="end" class="s">03-226228</text>
<text transform="translate(470.21 170.50) rotate(-90)" font-size="4.12" text-anchor="end" class="s">05-204973</text>
<text transform="translate(474.15 170.50) rotate(-90)" font-size="4.12" text-anchor="end" class="s">03-149967</text>
<text transform="translate(478.10 170.50) rotate(-90)" font-size="4.12" text-anchor="end" class="s">03-154726</text>
<text transform="translate(482.04 170.50) rotate(-90)" font-size="4.12" text-anchor="end" class="s">04-142546</text>
<text transform="translate(485.99 170.50) rotate(-90)" font-size="4.12" text-anchor="end" class="s">03-189143</text>
<text transform="translate(489.93 170.50) rotate(-90)" font-size="4.12" text-anchor="end" class="s">04-113782</text>
<text transform="translate(493.88 170.50) rotate(-90)" font-size="4.12" text-anchor="end" class="s">03-100061</text>
<text transform="translate(497.82 170.50) rotate(-90)" font-size="4.12" text-anchor="end" class="s">04-139653</text>
<text transform="translate(501.77 170.50) rotate(-90)" font-size="4.12" text-anchor="end" class="s">04-126598</text>
<text transform="translate(505.71 170.50) rotate(-90)" font-size="4.12" text-anchor="end" class="s">03-260887</text>
<text transform="translate(509.66 170.50) rotate(-90)" font-size="4.12" text-anchor="end" class="s">03-118432</text>
<text transform="translate(513.60 170.50) rotate(-90)" font-size="4.12" text-anchor="end" class="s">02-154513</text>
<text transform="translate(517.55 170.50) rotate(-90)" font-size="4.12" text-anchor="end" class="s">04-198626</text>
<path d="M54.50 167.20V169.30M58.45 167.20V169.30M62.39 167.20V169.30M66.34 167.20V169.30M70.28 167.20V169.30M74.23 167.20V169.30M78.17 167.20V169.30M82.12 167.20V169.30M86.06 167.20V169.30M90.01 167.20V169.30M93.95 167.20V169.30M97.90 167.20V169.30M101.84 167.20V169.30M105.79 167.20V169.30M109.73 167.20V169.30M113.68 167.20V169.30M117.62 167.20V169.30M121.57 167.20V169.30M125.51 167.20V169.30M129.46 167.20V169.30M133.40 167.20V169.30M137.35 167.20V169.30M141.29 167.20V169.30M145.24 167.20V169.30M149.18 167.20V169.30M153.13 167.20V169.30M157.07 167.20V169.30M161.02 167.20V169.30M164.96 167.20V169.30M168.91 167.20V169.30M172.85 167.20V169.30M176.80 167.20V169.30M180.74 167.20V169.30M184.69 167.20V169.30M188.63 167.20V169.30M192.58 167.20V169.30M196.52 167.20V169.30M200.47 167.20V169.30M204.41 167.20V169.30M208.36 167.20V169.30M212.30 167.20V169.30M216.25 167.20V169.30M220.19 167.20V169.30M224.14 167.20V169.30M228.08 167.20V169.30M232.03 167.20V169.30M235.97 167.20V169.30M239.92 167.20V169.30M243.86 167.20V169.30M247.81 167.20V169.30M251.75 167.20V169.30M255.70 167.20V169.30M259.64 167.20V169.30M263.59 167.20V169.30M267.53 167.20V169.30M271.48 167.20V169.30M275.42 167.20V169.30M279.37 167.20V169.30M283.31 167.20V169.30M287.26 167.20V169.30M291.20 167.20V169.30M295.15 167.20V169.30M299.09 167.20V169.30M303.04 167.20V169.30M306.98 167.20V169.30M310.93 167.20V169.30M314.87 167.20V169.30M318.82 167.20V169.30M322.76 167.20V169.30M326.71 167.20V169.30M330.65 167.20V169.30M334.60 167.20V169.30M338.54 167.20V169.30M342.49 167.20V169.30M346.43 167.20V169.30M350.38 167.20V169.30M354.32 167.20V169.30M358.27 167.20V169.30M362.21 167.20V169.30M366.16 167.20V169.30M370.10 167.20V169.30M374.05 167.20V169.30M377.99 167.20V169.30M381.94 167.20V169.30M385.88 167.20V169.30M389.83 167.20V169.30M393.77 167.20V169.30M397.72 167.20V169.30M401.66 167.20V169.30M405.61 167.20V169.30M409.55 167.20V169.30M413.50 167.20V169.30M417.44 167.20V169.30M421.39 167.20V169.30M425.33 167.20V169.30M429.28 167.20V169.30M433.22 167.20V169.30M437.17 167.20V169.30M441.11 167.20V169.30M445.06 167.20V169.30M449.00 167.20V169.30M452.95 167.20V169.30M456.89 167.20V169.30M460.84 167.20V169.30M464.78 167.20V169.30M468.73 167.20V169.30M472.67 167.20V169.30M476.62 167.20V169.30M480.56 167.20V169.30M484.51 167.20V169.30M488.45 167.20V169.30M492.40 167.20V169.30M496.34 167.20V169.30M500.29 167.20V169.30M504.23 167.20V169.30M508.18 167.20V169.30M512.12 167.20V169.30M516.07 167.20V169.30" stroke="#222" stroke-width="0.8" fill="none"/>
<text x="55.6" y="213.8" font-size="12.3" font-weight="bold" class="b">B</text>
<rect x="120.3" y="205.1" width="102.5" height="86.2" fill="#fff" stroke="#9a9a9a" stroke-width="0.8"/>
<text x="114.9" y="291.00" font-size="8.2" text-anchor="end">0</text>
<text x="114.9" y="275.06" font-size="8.2" text-anchor="end">20</text>
<text x="114.9" y="259.12" font-size="8.2" text-anchor="end">40</text>
<text x="114.9" y="243.18" font-size="8.2" text-anchor="end">60</text>
<text x="114.9" y="227.24" font-size="8.2" text-anchor="end">80</text>
<text x="114.9" y="211.30" font-size="8.2" text-anchor="end">100</text>
<text x="120.40" y="303.1" font-size="8.2" text-anchor="middle">0</text>
<text x="141.20" y="303.1" font-size="8.2" text-anchor="middle">2</text>
<text x="162.00" y="303.1" font-size="8.2" text-anchor="middle">4</text>
<text x="182.80" y="303.1" font-size="8.2" text-anchor="middle">6</text>
<text x="203.60" y="303.1" font-size="8.2" text-anchor="middle">8</text>
<path d="M117.7 288.10H120.3M117.7 272.16H120.3M117.7 256.22H120.3M117.7 240.28H120.3M117.7 224.34H120.3M117.7 208.40H120.3M120.40 291.3V293.7M141.20 291.3V293.7M162.00 291.3V293.7M182.80 291.3V293.7M203.60 291.3V293.7" stroke="#555" stroke-width="0.7" fill="none"/>
<text transform="translate(91.6 248.2) rotate(-90)" font-size="8.45" text-anchor="middle">Cumulative Survival (%)</text>
<text x="170.9" y="317.8" font-size="8.4" text-anchor="middle">Progression Free Survival (Years)</text>
<path d="M120.40 208.30H121.50V210.00H123.00V212.00H124.50V213.50H125.90V215.00H126.80V217.00H127.80V218.60H128.80V220.00H129.80V221.00H132.90V222.00H138.00V222.30H144.40V223.20H153.00V223.50H160.00V223.90H162.70V225.40H164.70V227.00H178.40V227.20H178.80V229.70H212.60V229.70H213.00V244.10H219.90V244.10" stroke="#a3a3a3" stroke-width="1.25" fill="none"/>
<path d="M120.40 208.30H120.50V215.20H124.00V219.60H125.20V222.80H126.80V225.50H127.80V228.00H129.50V230.50H131.20V233.70H134.20V238.90H141.50V241.40H156.80V244.70H205.00V244.70" stroke="#2323c4" stroke-width="1.35" fill="none"/>
<path d="M138.0 222.2v2.4M144.5 222.2v2.4M150.0 222.2v2.4M156.0 222.2v2.4M167.0 226.0v2.4M169.5 226.0v2.4M172.0 226.0v2.4M174.5 226.0v2.4M177.0 226.0v2.4M181.0 228.5v2.4M184.0 228.5v2.4M186.5 228.5v2.4M189.0 228.5v2.4M192.0 228.5v2.4M195.0 228.5v2.4M198.0 228.5v2.4M201.0 228.5v2.4M204.0 228.5v2.4M207.0 228.5v2.4M210.0 228.5v2.4M216.0 242.9v2.4M218.5 242.9v2.4" stroke="#9a9a9a" stroke-width="0.7" fill="none"/>
<path d="M162.0 243.3v2.8M166.0 243.3v2.8M169.5 243.3v2.8M173.0 243.3v2.8M176.3 243.3v2.8M180.0 243.3v2.8M183.5 243.3v2.8M189.2 243.3v2.8M193.3 243.3v2.8M195.3 243.3v2.8M201.0 243.3v2.8M205.0 243.3v2.8" stroke="#2323c4" stroke-width="0.8" fill="none"/>
<text x="168.0" y="222.8" font-size="6.7">CDKN2A Neutral</text>
<text x="151.8" y="254.9" font-size="6.7">CDKN2A Deletion</text>
<text x="122.8" y="288.4" font-size="6.7">Log Rank P = 0.016</text>
<rect x="46.3" y="324.4" width="208.5" height="12.5" fill="#f3f3f3"/>
<rect x="46.3" y="352.8" width="208.5" height="14.2" fill="#f3f3f3"/>
<text x="51.3" y="333.1" font-size="8.2">No. at Risk</text>
<path d="M49.5 345.7H71.8" stroke="#5c5cd0" stroke-width="1"/>
<path d="M49.5 360.4H71.8" stroke="#d25a62" stroke-width="1"/>
<text x="78.0" y="348.0" font-size="8.2">Deletion</text>
<text x="78.0" y="362.9" font-size="8.2">Neutral</text>
<text x="121.5" y="348.0" font-size="8.2" text-anchor="middle">33</text>
<text x="121.5" y="362.9" font-size="8.2" text-anchor="middle">88</text>
<text x="147.2" y="348.0" font-size="8.2" text-anchor="middle">19</text>
<text x="147.2" y="362.9" font-size="8.2" text-anchor="middle">70</text>
<text x="172.4" y="348.0" font-size="8.2" text-anchor="middle">13</text>
<text x="172.4" y="362.9" font-size="8.2" text-anchor="middle">56</text>
<text x="198.0" y="348.0" font-size="8.2" text-anchor="middle">4</text>
<text x="198.0" y="362.9" font-size="8.2" text-anchor="middle">19</text>
<text x="223.3" y="348.0" font-size="8.2" text-anchor="middle">0</text>
<text x="223.3" y="362.9" font-size="8.2" text-anchor="middle">6</text>
<text x="300.8" y="213.8" font-size="12.3" font-weight="bold" class="b">C</text>
<rect x="372.4" y="205.1" width="102.6" height="86.2" fill="#fff" stroke="#9a9a9a" stroke-width="0.8"/>
<text x="367.2" y="292.30" font-size="8.2" text-anchor="end">0</text>
<text x="367.2" y="276.30" font-size="8.2" text-anchor="end">20</text>
<text x="367.2" y="260.30" font-size="8.2" text-anchor="end">40</text>
<text x="367.2" y="244.30" font-size="8.2" text-anchor="end">60</text>
<text x="367.2" y="228.30" font-size="8.2" text-anchor="end">80</text>
<text x="367.2" y="212.30" font-size="8.2" text-anchor="end">100</text>
<text x="372.20" y="303.1" font-size="8.2" text-anchor="middle">0</text>
<text x="393.00" y="303.1" font-size="8.2" text-anchor="middle">2</text>
<text x="413.80" y="303.1" font-size="8.2" text-anchor="middle">4</text>
<text x="434.60" y="303.1" font-size="8.2" text-anchor="middle">6</text>
<text x="455.40" y="303.1" font-size="8.2" text-anchor="middle">8</text>
<path d="M369.8 289.40H372.4M369.8 273.40H372.4M369.8 257.40H372.4M369.8 241.40H372.4M369.8 225.40H372.4M369.8 209.40H372.4M372.20 291.3V293.7M393.00 291.3V293.7M413.80 291.3V293.7M434.60 291.3V293.7M455.40 291.3V293.7" stroke="#555" stroke-width="0.7" fill="none"/>
<text transform="translate(344.4 248.2) rotate(-90)" font-size="8.45" text-anchor="middle">Cumulative Survival (%)</text>
<text x="423.0" y="317.8" font-size="8.4" text-anchor="middle">Progression Free Survival (Years)</text>
<path d="M372.90 208.80H373.80V211.00H374.80V213.00H375.70V214.60H376.80V216.00H377.80V217.50H378.90V218.60H379.80V220.50H380.80V222.20H381.80V224.00H382.70V225.40H384.00V226.50H385.30V227.30H389.10V228.30H398.70V228.70H407.70V229.20H412.80V230.10H415.00V231.00H416.70V231.80H420.00V232.70H425.00V233.40H431.30V234.30H465.00V234.30H465.20V245.00H471.80V245.00" stroke="#a3a3a3" stroke-width="1.25" fill="none"/>
<path d="M372.90 208.80H373.00V217.70H377.70V226.00H379.40V235.20H381.10V244.20H391.80V253.50H394.30V262.30H409.50V271.00H439.30V271.00" stroke="#2323c4" stroke-width="1.35" fill="none"/>
<path d="M390.0 227.3v2.4M394.0 227.3v2.4M398.7 227.3v2.4M403.0 227.3v2.4M408.0 228.0v2.4M411.0 228.6v2.4M413.5 229.2v2.4M418.5 231.1v2.4M422.0 231.8v2.4M426.0 232.4v2.4M433.0 233.1v2.4M436.0 233.1v2.4M439.0 233.1v2.4M442.0 233.1v2.4M445.0 233.1v2.4M448.0 233.1v2.4M451.0 233.1v2.4M454.0 233.1v2.4M457.0 233.1v2.4M460.0 233.1v2.4M463.0 233.1v2.4M468.0 243.8v2.4M470.5 243.8v2.4" stroke="#9a9a9a" stroke-width="0.7" fill="none"/>
<path d="M423.0 269.6v2.8M431.5 269.6v2.8M439.3 269.6v2.8" stroke="#2323c4" stroke-width="0.8" fill="none"/>
<text x="422.0" y="227.1" font-size="6.7"><tspan font-style="italic">RCOR1</tspan>-Neutral</text>
<text x="416.3" y="267.4" font-size="6.7"><tspan font-style="italic">RCOR1</tspan>-Deletion</text>
<text x="374.9" y="288.4" font-size="6.7">Log Rank P = 0.001</text>
<rect x="291.5" y="324.4" width="195.0" height="12.5" fill="#f3f3f3"/>
<rect x="291.5" y="352.8" width="195.0" height="14.2" fill="#f3f3f3"/>
<text x="295.8" y="333.1" font-size="8.2">No. at Risk</text>
<path d="M294.5 345.7H317.0" stroke="#5c5cd0" stroke-width="1"/>
<path d="M294.5 360.4H317.0" stroke="#d25a62" stroke-width="1"/>
<text x="323.0" y="348.0" font-size="8.2">Deletion</text>
<text x="323.0" y="362.9" font-size="8.2">Neutral</text>
<text x="372.3" y="348.0" font-size="8.2" text-anchor="middle">10</text>
<text x="372.3" y="362.9" font-size="8.2" text-anchor="middle">120</text>
<text x="392.9" y="348.0" font-size="8.2" text-anchor="middle">4</text>
<text x="392.9" y="362.9" font-size="8.2" text-anchor="middle">88</text>
<text x="413.9" y="348.0" font-size="8.2" text-anchor="middle">2</text>
<text x="413.9" y="362.9" font-size="8.2" text-anchor="middle">69</text>
<text x="434.7" y="348.0" font-size="8.2" text-anchor="middle">1</text>
<text x="434.7" y="362.9" font-size="8.2" text-anchor="middle">25</text>
<text x="455.5" y="348.0" font-size="8.2" text-anchor="middle">0</text>
<text x="455.5" y="362.9" font-size="8.2" text-anchor="middle">8</text>
</svg>
</body></html>
